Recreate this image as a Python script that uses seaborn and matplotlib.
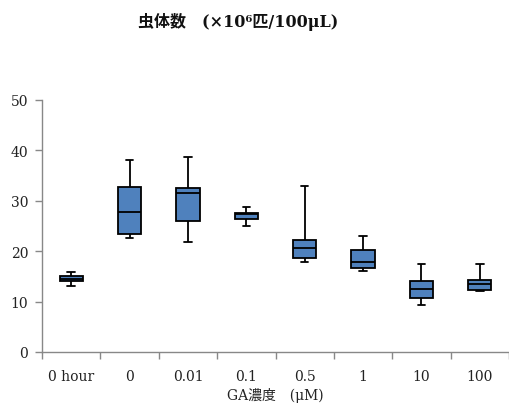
import matplotlib
matplotlib.use("Agg")
import matplotlib.pyplot as plt
import seaborn as sns
import pandas as pd
import numpy as np

categories = ["0 hour", "0", "0.01", "0.1", "0.5", "1", "10", "100"]
# five-number summaries: min, q1, median, q3, max
mins    = [13.0, 22.6, 21.9, 25.0, 17.8, 16.0,  9.4, 12.1]
q1s     = [14.1, 23.4, 26.0, 26.3, 18.6, 16.6, 10.8, 12.4]
medians = [14.5, 27.7, 31.6, 27.3, 20.7, 17.9, 12.5, 13.5]
q3s     = [15.0, 32.8, 32.5, 27.5, 22.2, 20.3, 14.1, 14.3]
maxs    = [15.8, 38.0, 38.6, 28.8, 33.0, 23.1, 17.5, 17.5]

rows = []
for c, a, b, m, d, e in zip(categories, mins, q1s, medians, q3s, maxs):
    for v in (a, b, m, d, e):
        rows.append({"conc": c, "value": v})
df = pd.DataFrame(rows)

sns.set_theme(style="white")
plt.rcParams['font.family'] = ['DejaVu Serif', 'Noto Sans CJK JP']

fig = plt.figure(figsize=(5.09, 4.10), dpi=100)
ax = fig.add_axes([42/509, 1-353/410, 1-42/509, (353-101)/410])

sns.boxplot(data=df, x="conc", y="value", order=categories, ax=ax,
            color="#4F81BD", saturation=1, width=0.4, whis=(0, 100),
            linecolor="black", linewidth=1.3, capwidths=0.13,
            medianprops=dict(color="black", linewidth=1.3))

ax.set_ylim(0, 50)
ax.set_yticks([0, 10, 20, 30, 40, 50])
ax.set_xlim(-0.5, -0.5 + (509-42)/58.9)
ax.set_xticks(range(len(categories)))
ax.set_xticklabels(categories)
ax.set_xticks(np.arange(-0.5, 8, 1.0), minor=True)
ax.tick_params(axis="x", which="major", length=0, pad=12, labelsize=10, colors="#222222")
ax.tick_params(axis="x", which="minor", length=5, width=1, color="#888888", direction="out", bottom=True)
ax.tick_params(axis="y", length=5, width=1, color="#888888", direction="out", left=True,
               labelsize=10, labelcolor="#222222", pad=5)
for s in ["top", "right"]:
    ax.spines[s].set_visible(False)
for s in ["left", "bottom"]:
    ax.spines[s].set_color("#888888")
    ax.spines[s].set_linewidth(1)
ax.set_ylabel("")
ax.set_xlabel("")

fig.text(275/509, 1-396/410, "GA濃度　(μM)", ha="center", va="center",
         fontsize=10, color="#222222")
fig.text(238/509, 1-22/410, "虫体数　(×10⁶匹/100μL)", ha="center", va="center",
         fontsize=11.5, fontweight="bold", color="#111111")

fig.savefig("out.png", dpi=100)
